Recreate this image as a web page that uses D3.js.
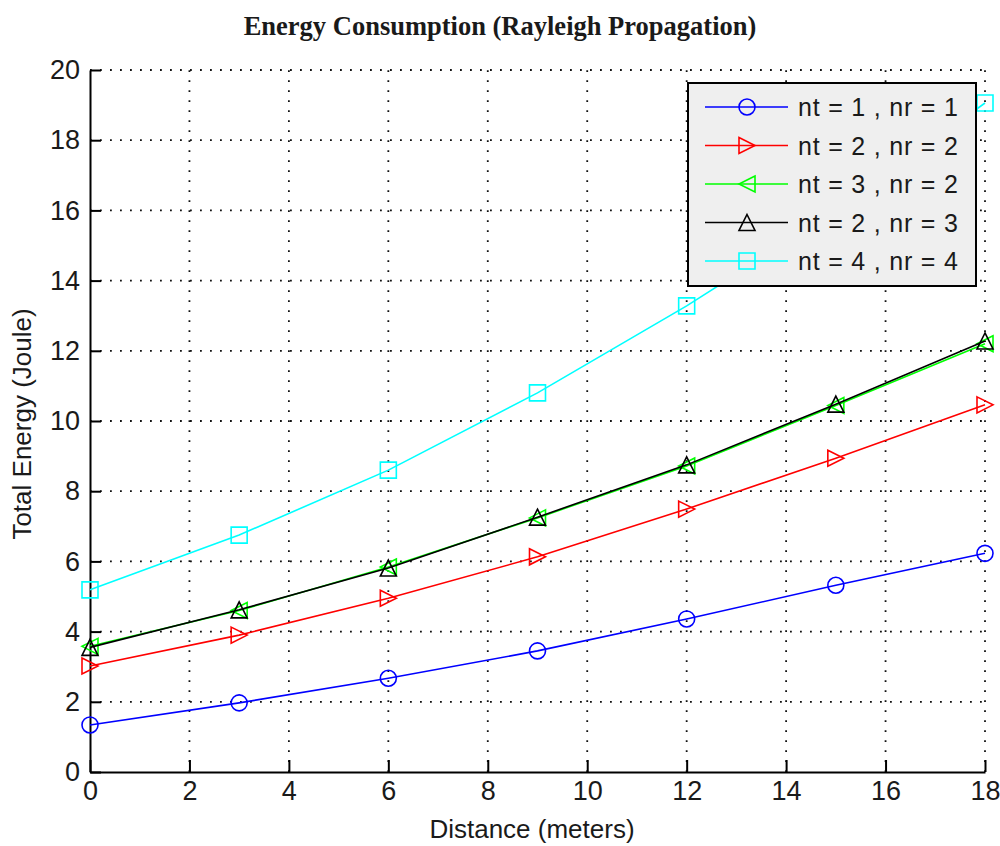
<!DOCTYPE html>
<html>
<head>
<meta charset="utf-8">
<script src="https://cdn.jsdelivr.net/npm/d3@7"></script>
<style>
  body { margin: 0; background: #fff; }
  text { font-family: "Liberation Sans", Arial, sans-serif; fill: #1a1a1a; }
</style>
</head>
<body>
<svg id="chart" width="1000" height="846"></svg>
<script>
var distance = [0, 3, 6, 9, 12, 15, 18];
var seriesNames = ["nt = 1 , nr = 1", "nt = 2 , nr = 2", "nt = 3 , nr = 2", "nt = 2 , nr = 3", "nt = 4 , nr = 4"];
var e11 = [1.34, 1.97, 2.67, 3.45, 4.36, 5.32, 6.23];
var e22 = [3.02, 3.90, 4.95, 6.13, 7.49, 8.94, 10.46];
var e32 = [3.58, 4.60, 5.84, 7.24, 8.72, 10.44, 12.20];
var e23 = [3.55, 4.62, 5.81, 7.26, 8.75, 10.48, 12.28];
var e44 = [5.19, 6.75, 8.60, 10.80, 13.28, 15.98, 19.06];
var colors = ["#0000ff", "#ff0000", "#00ff00", "#000000", "#00ffff"];
var markers = ["circle", "right", "left", "up", "square"];
var xTicks = [0, 2, 4, 6, 8, 10, 12, 14, 16, 18];
var yTicks = [0, 2, 4, 6, 8, 10, 12, 14, 16, 18, 20];

(function energyChart() {
    var svg = d3.select("#chart");
    var left = 90, right = 985, top = 70, bottom = 772;

    var x = d3.scaleLinear().domain([0, 18]).range([left, right]);
    var y = d3.scaleLinear().domain([0, 20]).range([bottom, top]);

    // marker path around (0,0)
    function markerPath(type, s) {
        var p = d3.path();
        if (type == "circle") {
            p.arc(0, 0, s, 0, 2 * Math.PI);
        } else if (type == "square") {
            p.rect(-s, -s, 2 * s, 2 * s);
        } else if (type == "right") {
            p.moveTo(-s, -s); p.lineTo(s, 0); p.lineTo(-s, s); p.closePath();
        } else if (type == "left") {
            p.moveTo(s, -s); p.lineTo(-s, 0); p.lineTo(s, s); p.closePath();
        } else {
            p.moveTo(0, -s); p.lineTo(s, s); p.lineTo(-s, s); p.closePath();
        }
        return p.toString();
    }

    // title
    svg.append("text")
       .attr("x", 500).attr("y", 35)
       .attr("text-anchor", "middle")
       .style("font-family", "'Liberation Serif', 'Times New Roman', serif")
       .style("font-weight", "bold")
       .style("font-size", "26.5px")
       .text("Energy Consumption (Rayleigh Propagation)");

    // dotted grid
    var grid = svg.append("g").attr("stroke", "#111").attr("stroke-width", 1.8)
                  .attr("stroke-dasharray", "1.8,8.2");
    grid.selectAll(".gx").data(xTicks.slice(1)).enter().append("line")
        .attr("x1", function(d) { return x(d); }).attr("x2", function(d) { return x(d); })
        .attr("y1", bottom).attr("y2", top);
    grid.selectAll(".gy").data(yTicks.slice(1)).enter().append("line")
        .attr("y1", function(d) { return y(d); }).attr("y2", function(d) { return y(d); })
        .attr("x1", left).attr("x2", right);

    // axes
    var xAxis = svg.append("g")
        .attr("transform", "translate(0," + bottom + ")")
        .call(d3.axisBottom(x).tickValues(xTicks).tickSizeInner(-12).tickSizeOuter(0).tickPadding(20));
    var yAxis = svg.append("g")
        .attr("transform", "translate(" + left + ",0)")
        .call(d3.axisLeft(y).tickValues(yTicks).tickSizeInner(-11).tickSizeOuter(0).tickPadding(10));
    [xAxis, yAxis].forEach(function(a) {
        a.select(".domain").attr("stroke", "#000").attr("stroke-width", 2);
        a.selectAll(".tick line").attr("stroke", "#000").attr("stroke-width", 2);
        a.selectAll(".tick text")
         .style("font-family", "'Liberation Sans', Arial, sans-serif")
         .style("font-size", "27px").attr("fill", "#1a1a1a");
    });
    xAxis.selectAll(".tick text").attr("dy", "0.71em").attr("y", 9);

    // axis labels
    svg.append("text")
       .attr("x", 532).attr("y", 838)
       .attr("text-anchor", "middle")
       .style("font-size", "26px")
       .text("Distance (meters)");
    svg.append("text")
       .attr("transform", "translate(31,424) rotate(-90)")
       .attr("text-anchor", "middle")
       .style("font-size", "26px")
       .text("Total Energy (Joule)");

    // series
    var data = [e11, e22, e32, e23, e44];
    var line = d3.line()
        .x(function(d, i) { return x(distance[i]); })
        .y(function(d) { return y(d); });

    data.forEach(function(vals, k) {
        var g = svg.append("g");
        g.append("path")
         .attr("d", line(vals))
         .attr("fill", "none")
         .attr("stroke", colors[k])
         .attr("stroke-width", 1.6);
        g.selectAll(".m").data(vals).enter().append("path")
         .attr("transform", function(d, i) { return "translate(" + x(distance[i]) + "," + y(d) + ")"; })
         .attr("d", markerPath(markers[k], 8))
         .attr("fill", "none")
         .attr("stroke", colors[k])
         .attr("stroke-width", 1.6);
    });

    // legend
    var lg = svg.append("g").attr("transform", "translate(688,83)");
    lg.append("rect")
      .attr("width", 288).attr("height", 203)
      .attr("fill", "#efefef").attr("stroke", "#000").attr("stroke-width", 2);
    seriesNames.forEach(function(name, k) {
        var cy = 24 + k * 38.5;
        lg.append("line")
          .attr("x1", 17).attr("x2", 100).attr("y1", cy).attr("y2", cy)
          .attr("stroke", colors[k]).attr("stroke-width", 1.6);
        lg.append("path")
          .attr("transform", "translate(59," + cy + ")")
          .attr("d", markerPath(markers[k], 8))
          .attr("fill", "none").attr("stroke", colors[k]).attr("stroke-width", 1.6);
        lg.append("text")
          .attr("x", 110).attr("y", cy + 9)
          .style("font-size", "25px")
          .style("letter-spacing", "0.8px")
          .text(name);
    });
}());
</script>
</body>
</html>
